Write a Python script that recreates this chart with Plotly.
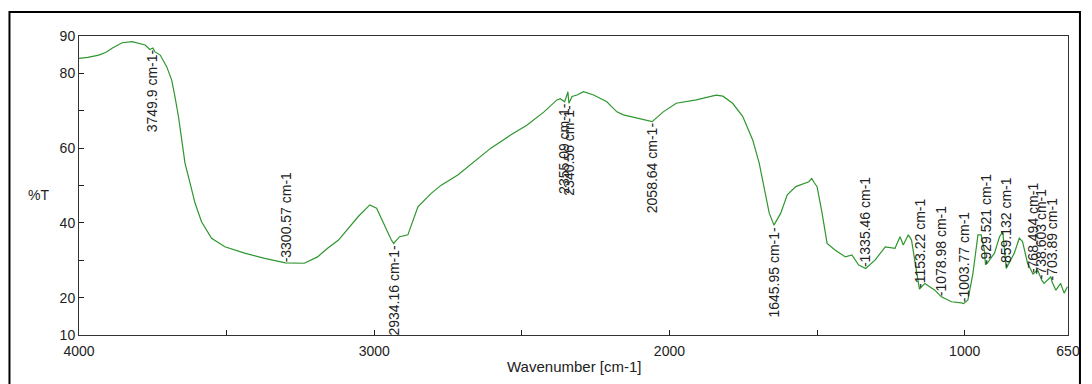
import plotly.graph_objects as go

# IR transmittance spectrum (wavenumber in cm-1, transmittance in %T)
wavenumber = [
    4000, 3970, 3933, 3910, 3888, 3854, 3820, 3790, 3776, 3760, 3749.9, 3743,
    3725, 3703, 3686, 3675, 3663, 3652, 3641, 3624, 3607, 3585, 3551, 3506,
    3439, 3371, 3300.57, 3237, 3192, 3158, 3121, 3054, 3015, 2992, 2964, 2942,
    2934.16, 2914, 2886, 2852, 2807, 2773, 2717, 2661, 2605, 2538, 2482, 2425,
    2381, 2370, 2355.09, 2348, 2344, 2340.56, 2330, 2313, 2291, 2257, 2212,
    2201, 2178, 2156, 2111, 2058.64, 2021, 1977, 1909, 1842, 1819, 1786, 1752,
    1718, 1696, 1679, 1662, 1645.95, 1623, 1601, 1572, 1528, 1518, 1510, 1500,
    1483, 1466, 1438, 1404, 1382, 1359, 1335.46, 1303, 1269, 1236, 1219, 1208,
    1191, 1180, 1171, 1153.22, 1135, 1101, 1078.98, 1045, 1011, 1003.77, 989,
    972, 955, 944, 933, 929.521, 922, 899, 882, 871, 859.132, 832, 815, 804,
    787, 768.494, 753, 738.603, 731, 708, 703.89, 691, 675, 663, 652,
]
transmittance = [
    84.0, 84.3, 84.9, 85.6, 86.7, 88.2, 88.5, 88.0, 87.6, 86.4, 86.8, 85.8,
    84.9, 81.8, 78.2, 73.8, 68.4, 62.2, 56.0, 50.7, 45.3, 40.3, 35.9, 33.6,
    31.9, 30.5, 29.3, 29.2, 30.9, 33.2, 35.4, 41.7, 44.8, 43.9, 39.0, 35.4,
    34.5, 36.3, 36.8, 44.3, 47.9, 50.1, 52.8, 56.4, 60.0, 63.5, 66.2, 69.7,
    72.9, 73.2, 72.4, 74.0, 75.1, 72.0, 73.8, 74.2, 75.1, 74.2, 72.4,
    71.5, 69.7, 68.9, 68.0, 67.1, 69.7, 72.0, 72.9, 74.2, 73.9, 72.0, 68.5,
    62.2, 56.0, 48.8, 42.6, 39.4, 42.6, 47.5, 49.7, 51.0, 51.9, 50.8, 49.7,
    42.6, 34.5, 32.7, 30.9, 31.4, 28.7, 27.8, 30.1, 33.6, 33.2, 36.3, 34.1,
    36.8, 35.4, 30.9, 22.3, 23.8, 22.0, 20.2, 18.9, 18.6, 18.4, 19.4,
    26.5, 36.8, 36.8, 32.5, 28.8, 29.4, 31.9, 36.3, 37.6, 27.8, 31.9, 35.9, 35.0,
    29.2, 26.3, 27.4, 24.6, 23.8, 25.6, 24.2, 22.0, 23.8, 21.2, 22.9,
]

# Picked peaks
peak_wavenumber = [3749.9, 3300.57, 2934.16, 2355.09, 2340.56, 2058.64,
                   1645.95, 1335.46, 1153.22, 1078.98, 1003.77, 929.521,
                   859.132, 768.494, 738.603, 703.89]
peak_transmittance = [86.8, 29.3, 34.5, 72.4, 72.0, 67.1,
                      39.4, 27.8, 22.3, 20.2, 18.4, 28.8,
                      27.8, 26.3, 24.6, 24.2]
# peaks whose label hangs below the curve
labels_below = {3749.9, 2934.16, 2355.09, 2340.56, 2058.64, 1645.95}

x_ticks = [4000, 3500, 3000, 2500, 2000, 1500, 1000, 650]
x_ticktext = ["4000", "", "3000", "", "2000", "", "1000", "650"]
y_ticks = [10, 20, 30, 40, 50, 60, 70, 80, 90]
y_ticktext = ["10", "20", "", "40", "", "60", "", "80", "90"]

FONT = "Liberation Sans, Arial, sans-serif"
TEXT = "#222222"

fig = go.Figure()
fig.add_trace(go.Scatter(
    x=wavenumber, y=transmittance, mode="lines",
    line=dict(color="#2e962e", width=1.2),
    hoverinfo="skip", showlegend=False,
))

annotations = []
for wn, t in zip(peak_wavenumber, peak_transmittance):
    below = wn in labels_below
    annotations.append(dict(
        x=wn, y=t, xref="x", yref="y",
        text=(f"{wn} cm-1-" if below else f"-{wn} cm-1"),
        textangle=-90, showarrow=False,
        xanchor="center", yanchor=("top" if below else "bottom"),
        borderpad=0,
        font=dict(family=FONT, size=14, color=TEXT),
    ))

annotations.append(dict(
    x=-0.0412, y=0.468, xref="paper", yref="paper", text="%T",
    showarrow=False, xanchor="center", yanchor="middle",
    font=dict(family=FONT, size=14, color=TEXT),
))
annotations.append(dict(
    x=0.5, y=-0.1037, xref="paper", yref="paper", text="Wavenumber [cm-1]",
    showarrow=False, xanchor="center", yanchor="middle",
    font=dict(family=FONT, size=15, color=TEXT),
))

fig.update_layout(
    width=1092, height=384,
    margin=dict(l=79, r=18, t=36, b=49),
    paper_bgcolor="white", plot_bgcolor="white",
    font=dict(family=FONT, size=14, color=TEXT),
    annotations=annotations,
    shapes=[dict(
        type="rect", xref="paper", yref="paper",
        x0=-0.0703, x1=1.0121, y0=-0.22, y1=1.0803,
        line=dict(color="black", width=2), fillcolor="rgba(0,0,0,0)",
        layer="below",
    )],
    xaxis=dict(
        range=[4000, 650], tickmode="array", tickvals=x_ticks,
        ticktext=x_ticktext, ticks="inside", ticklen=5, tickwidth=1,
        tickcolor="#222", showgrid=False, zeroline=False,
        showline=True, linecolor="#333", linewidth=1, mirror=True,
        ticklabelstandoff=3,
        tickfont=dict(family=FONT, size=14, color=TEXT),
    ),
    yaxis=dict(
        range=[10, 90], tickmode="array", tickvals=y_ticks,
        ticktext=y_ticktext, ticks="inside", ticklen=5, tickwidth=1,
        tickcolor="#222", showgrid=False, zeroline=False,
        showline=True, linecolor="#333", linewidth=1, mirror=True,
        tickfont=dict(family=FONT, size=14, color=TEXT),
    ),
)

fig.write_html("out.html")
